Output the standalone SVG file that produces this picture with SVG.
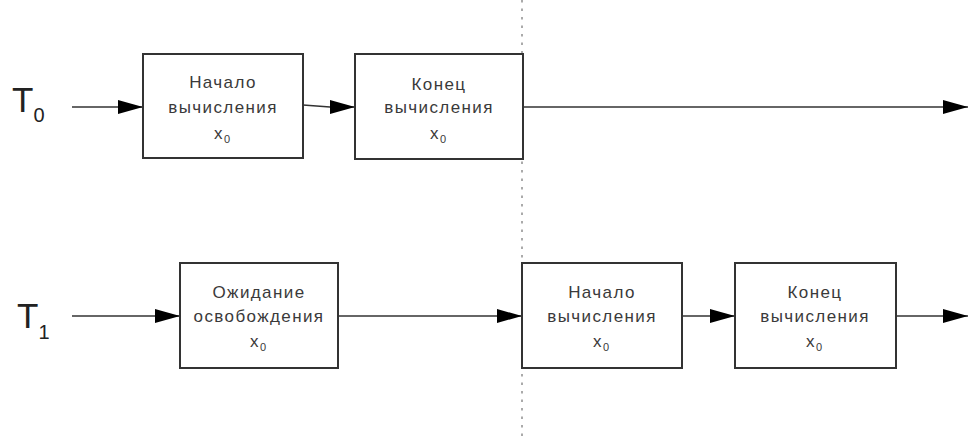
<svg xmlns="http://www.w3.org/2000/svg" width="968" height="437" viewBox="0 0 968 437">
<style>
.box{fill:#fff;stroke:#333;stroke-width:2}
.lbl{font-family:"Liberation Sans",Arial,sans-serif;font-size:17px;letter-spacing:1.4px;fill:#3a3a3a;text-anchor:middle}
.sub{font-size:11px;letter-spacing:0}
.edge{stroke:#333;stroke-width:1.6;fill:none;marker-end:url(#ah)}
.big{font-family:"Liberation Sans",Arial,sans-serif;font-size:35px;fill:#222}
.bigsub{font-size:20px}
</style>
<defs>
<marker id="ah" markerUnits="userSpaceOnUse" markerWidth="26" markerHeight="14" refX="25" refY="7" orient="auto">
<path d="M0,0 L25,7 L0,14 z" fill="#000"/>
</marker>
</defs>
<rect width="968" height="437" fill="#fff"/>
<line x1="522" y1="0" x2="522" y2="437" stroke="#aaa" stroke-width="2" stroke-dasharray="2.5 6"/>
<g id="T0label"><text class="big" x="12" y="112">T<tspan class="bigsub" dy="10">0</tspan></text></g>
<g id="T1label"><text class="big" x="17" y="328">T<tspan class="bigsub" dy="11">1</tspan></text></g>
<g id="connectors">
<line class="edge" x1="72" y1="107" x2="143" y2="107"/>
<path class="edge" d="M303,105 L330,107 L355,107"/>
<line class="edge" x1="523" y1="107" x2="968" y2="107"/>
<line class="edge" x1="72" y1="316" x2="180" y2="316"/>
<line class="edge" x1="338" y1="316" x2="522" y2="316"/>
<line class="edge" x1="682" y1="316" x2="735" y2="316"/>
<line class="edge" x1="896" y1="316" x2="968" y2="316"/>
</g>
<g id="n1">
<rect class="box" x="143" y="54" width="160" height="104"/>
<text class="lbl" x="223" y="88">Начало</text>
<text class="lbl" x="223" y="113">вычисления</text>
<text class="lbl" x="222" y="139">x<tspan class="sub" dy="4">0</tspan></text>
</g>
<g id="n2">
<rect class="box" x="355" y="54" width="168" height="105"/>
<text class="lbl" x="439" y="90">Конец</text>
<text class="lbl" x="439" y="113">вычисления</text>
<text class="lbl" x="438" y="139">x<tspan class="sub" dy="4">0</tspan></text>
</g>
<g id="n3">
<rect class="box" x="180" y="263" width="158" height="105"/>
<text class="lbl" x="259" y="298">Ожидание</text>
<text class="lbl" x="259" y="322">освобождения</text>
<text class="lbl" x="258" y="347">x<tspan class="sub" dy="4">0</tspan></text>
</g>
<g id="n4">
<rect class="box" x="522" y="263" width="160" height="105"/>
<text class="lbl" x="602" y="298">Начало</text>
<text class="lbl" x="602" y="322">вычисления</text>
<text class="lbl" x="601" y="347">x<tspan class="sub" dy="4">0</tspan></text>
</g>
<g id="n5">
<rect class="box" x="735" y="263" width="161" height="105"/>
<text class="lbl" x="815" y="298">Конец</text>
<text class="lbl" x="815" y="322">вычисления</text>
<text class="lbl" x="814" y="347">x<tspan class="sub" dy="4">0</tspan></text>
</g>
</svg>
